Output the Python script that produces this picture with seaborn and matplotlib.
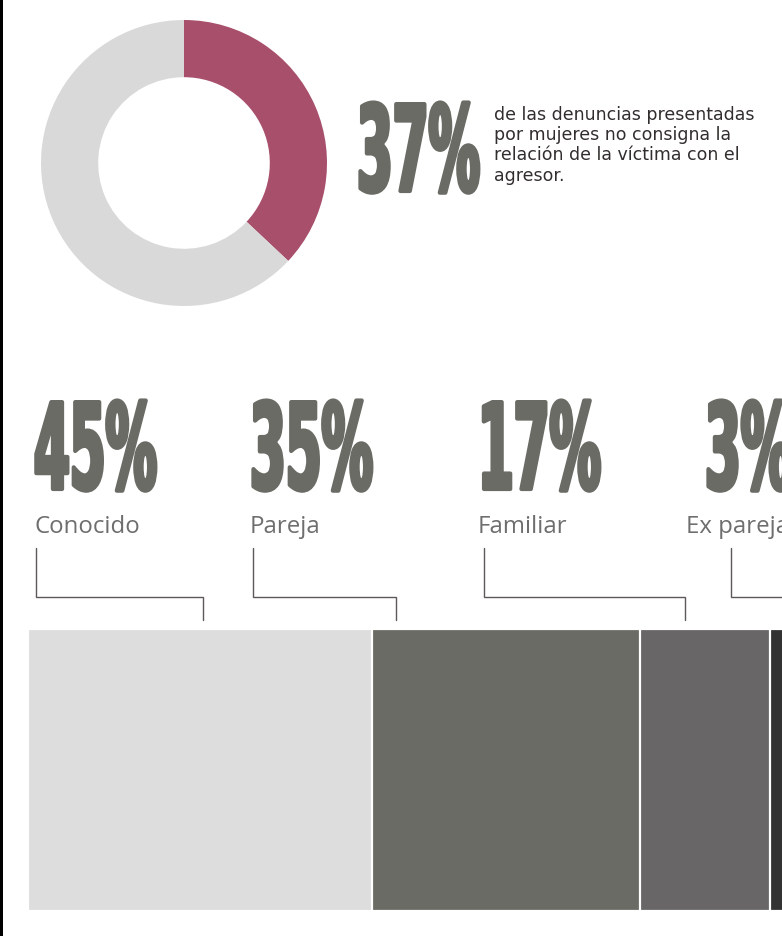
import matplotlib
matplotlib.use('Agg')
import matplotlib.pyplot as plt
import pandas as pd
import seaborn as sns
from matplotlib.patches import Rectangle
from matplotlib.patheffects import AbstractPathEffect
from matplotlib.transforms import Affine2D

# Data
donut_labels = ['Sin relación consignada', 'Resto']
donut_values = [37, 63]
categories = ['Conocido', 'Pareja', 'Familiar', 'Ex pareja']
shares = [45, 35, 17, 3]
intro_text = ('de las denuncias presentadas\npor mujeres no consigna la\n'
              'relación de la víctima con el\nagresor.')

# Colours
donut_colors = ['#A84F6C', '#D9D9D9']
bar_colors = ['#DDDDDD', '#6A6B64', '#686667', '#333333']
number_color = '#6A6B65'
label_color = '#6E6E6E'
line_color = '#5E5858'

W, H = 782, 936

sns.set_theme(style='white')
plt.rcParams['font.family'] = ['DejaVu Sans']


class Stretch(AbstractPathEffect):
    """Draws text taller from its baseline (condensed poster type), a bit heavier."""

    def __init__(self, sy=2.3, stroke=3.0):
        super().__init__()
        self.sy = sy
        self.stroke = stroke

    def draw_path(self, renderer, gc, tpath, affine, rgbFace=None):
        y0 = affine.transform((0, 0))[1]
        aff = affine + Affine2D().translate(0, -y0).scale(1, self.sy).translate(0, y0)
        gc0 = renderer.new_gc()
        gc0.copy_properties(gc)
        gc0.set_linewidth(self.stroke)
        gc0.set_foreground(rgbFace)
        renderer.draw_path(gc0, tpath, aff, rgbFace)
        gc0.restore()


fig = plt.figure(figsize=(W / 100, H / 100), dpi=100)
fig.patch.set_facecolor('white')

# Donut
ax_d = fig.add_axes([41 / W, (H - 306) / H, 286 / W, 286 / H])
ax_d.pie(donut_values, colors=donut_colors, startangle=90, counterclock=False,
         radius=1, wedgeprops=dict(width=0.4, linewidth=0))
ax_d.set_xlim(-1, 1)
ax_d.set_ylim(-1, 1)
ax_d.axis('off')

# Stacked share bar (cumulative bars drawn from widest to narrowest)
cum = pd.Series(shares).cumsum().tolist()
df = pd.DataFrame({'category': categories, 'cum': cum, 'row': 'total'})
ax_b = fig.add_axes([28 / W, (H - 911) / H, (W - 28) / W, 282 / H])
sns.barplot(data=df, x='cum', y='row', hue='category',
            hue_order=categories[::-1],
            palette=dict(zip(categories, bar_colors)),
            dodge=False, width=1, orient='h', edgecolor='white',
            linewidth=1.6, saturation=1, legend=False, ax=ax_b)
ax_b.set_xlim(0, (W - 28) / 7.65)
ax_b.set_ylim(0.5, -0.5)
ax_b.axis('off')

# Overlay in pixel coordinates for texts and connectors
ax = fig.add_axes([0, 0, 1, 1])
ax.set_xlim(0, W)
ax.set_ylim(H, 0)
ax.axis('off')
ax.patch.set_alpha(0)

ax.add_patch(Rectangle((0, 0), 3, H, color='black', lw=0))

big = dict(fontsize=37, fontweight='bold', color=number_color, ha='left',
           va='baseline', path_effects=[Stretch(2.32, 3.0)])

ax.text(357, 191, f'{donut_values[0]}%', **big)
ax.text(494, 106, intro_text, fontsize=12.5, color='#332E2E', ha='left',
        va='top', linespacing=1.16)

num_x = [34, 250, 478, 705]
lab_x = [34, 250, 478, 686]
for share, cat, nx, lx in zip(shares, categories, num_x, lab_x):
    ax.text(nx, 489, f'{share}%', **big)
    ax.text(lx, 533, cat, fontsize=17.3, color=label_color, ha='left',
            va='baseline', family=['Open Sans', 'DejaVu Sans'])

# Connectors from labels to the bar
connectors = [(36, 203), (253, 396), (484, 685), (731, 800)]
for x1, x2 in connectors:
    ax.plot([x1, x1, x2, x2], [548, 597, 597, 620], color=line_color,
            lw=1.0, solid_joinstyle='miter')

fig.savefig('out.png', dpi=100)
